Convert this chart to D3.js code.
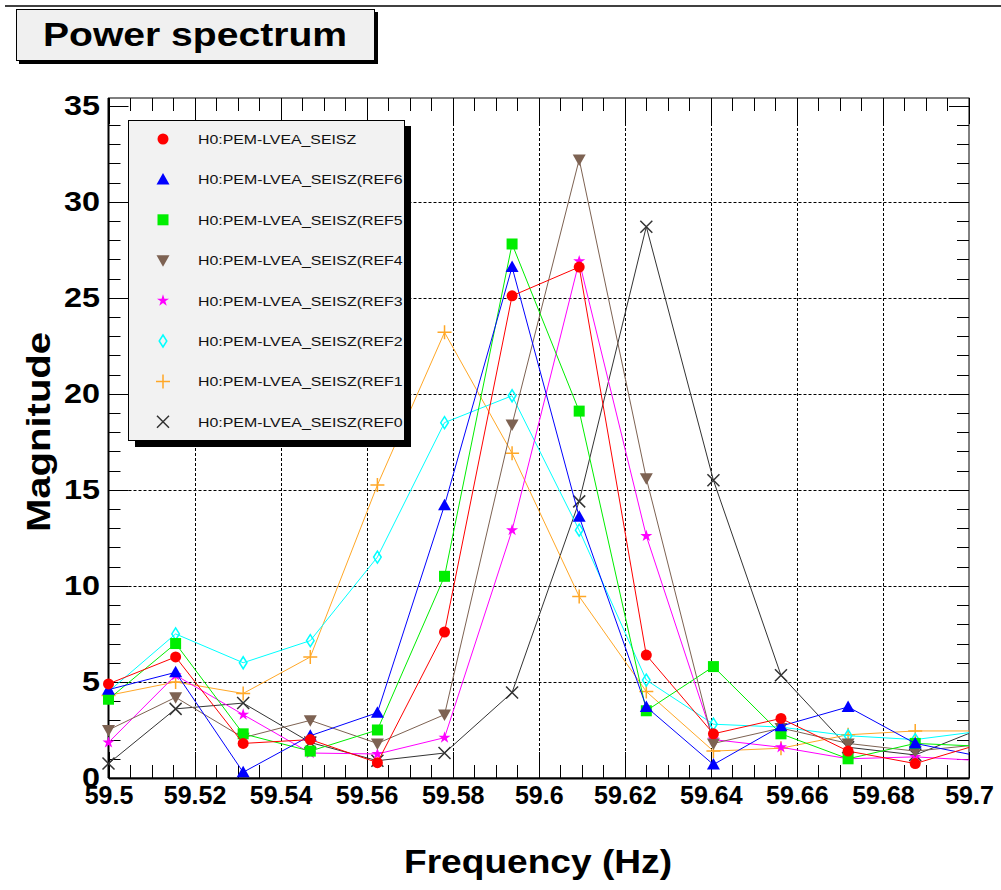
<!DOCTYPE html>
<html>
<head>
<meta charset="utf-8">
<script src="https://cdn.jsdelivr.net/npm/d3@7"></script>
<style>
  body { margin: 0; background: #fff; }
  text { font-family: "Liberation Sans", Arial, sans-serif; }
</style>
</head>
<body>
<div id="chart"></div>
<script>

// frequency bins (Hz)
var freq = [59.5, 59.5156, 59.5313, 59.5469, 59.5625, 59.5781, 59.5938,
            59.6094, 59.625, 59.6406, 59.6563, 59.6719, 59.6875, 59.7031];

// magnitudes, one array per channel
var seisz     = [4.9, 6.3, 1.8, 2.0, 0.8, 7.6, 25.1, 26.6, 6.4, 2.3, 3.1, 1.4, 0.75, 1.8];
var seiszRef6 = [4.6, 5.5, 0.3, 2.2, 3.4, 14.2, 26.6, 13.6, 3.7, 0.7, 2.7, 3.7, 1.8, 1.1];
var seiszRef5 = [4.1, 7.0, 2.3, 1.4, 2.5, 10.5, 27.8, 19.1, 3.5, 5.8, 2.3, 1.0, 1.8, 1.65];
var seiszRef4 = [2.5, 4.2, 2.1, 3.0, 1.8, 3.3, 18.4, 32.2, 15.6, 1.8, 2.6, 1.8, 1.4, 1.75];
var seiszRef3 = [1.85, 5.35, 3.3, 1.3, 1.25, 2.1, 12.9, 26.9, 12.6, 2.0, 1.6, 1.0, 1.1, 0.9];
var seiszRef2 = [4.5, 7.5, 6.0, 7.15, 11.5, 18.5, 19.9, 12.9, 5.1, 2.8, 2.65, 2.2, 2.0, 2.45];
var seiszRef1 = [4.3, 5.0, 4.4, 6.3, 15.25, 23.2, 16.9, 9.45, 4.5, 1.4, 1.55, 2.25, 2.45, 2.45];
var seiszRef0 = [0.75, 3.6, 3.9, 1.85, 0.9, 1.3, 4.45, 14.4, 28.7, 15.5, 5.35, 1.6, 1.2, 2.6];

var names = ["H0:PEM-LVEA_SEISZ", "H0:PEM-LVEA_SEISZ(REF6", "H0:PEM-LVEA_SEISZ(REF5",
             "H0:PEM-LVEA_SEISZ(REF4", "H0:PEM-LVEA_SEISZ(REF3", "H0:PEM-LVEA_SEISZ(REF2",
             "H0:PEM-LVEA_SEISZ(REF1", "H0:PEM-LVEA_SEISZ(REF0"];
var values = [seisz, seiszRef6, seiszRef5, seiszRef4, seiszRef3, seiszRef2, seiszRef1, seiszRef0];
var colors = ["#ff0000", "#0000ff", "#00ee00", "#7d6252", "#ff00ff", "#00ffff", "#ffa726", "#333333"];
var markers = ["circle", "triUp", "square", "triDown", "star", "diamond", "plus", "cross"];

var xTicks = [59.5, 59.52, 59.54, 59.56, 59.58, 59.6, 59.62, 59.64, 59.66, 59.68, 59.7];
var yTicks = [0, 5, 10, 15, 20, 25, 30, 35];

// frame of the plot in page pixels
var frame = {left: 108.5, right: 969, top: 98, bottom: 778};

var svg = d3.select("#chart").append("svg")
    .attr("width", 1001)
    .attr("height", 890);

var x = d3.scaleLinear().domain([59.5, 59.7]).range([frame.left, frame.right]);
var y = d3.scaleLinear().domain([0, 35.4]).range([frame.bottom, frame.top]);

// marker shapes
function markerPath(m) {
  if (m == "circle") return d3.symbol(d3.symbolCircle, Math.PI * 5.5 * 5.5)();
  if (m == "triUp") return "M0,-6.5L6.5,5L-6.5,5Z";
  if (m == "square") return "M-5.5,-5.5h11v11h-11z";
  if (m == "triDown") return "M0,6.5L6.5,-5L-6.5,-5Z";
  if (m == "star") return d3.symbol(d3.symbolStar, 45)();
  if (m == "diamond") return "M0,-6L3.8,0L0,6L-3.8,0Z";
  if (m == "plus") return "M-7,0H7M0,-7V7";
  return "M-6,-6L6,6M6,-6L-6,6";
}
function isOpen(m) { return m == "diamond" || m == "plus" || m == "cross"; }

// top rule of the page
svg.append("line")
    .attr("x1", 5).attr("x2", 1001).attr("y1", 6).attr("y2", 6)
    .attr("stroke", "#000").attr("stroke-width", 1.5);

// title box
svg.append("rect")
    .attr("x", 19).attr("y", 12).attr("width", 359).attr("height", 52)
    .attr("fill", "#000");
svg.append("rect")
    .attr("x", 16.5).attr("y", 9.5).attr("width", 358).attr("height", 51)
    .attr("fill", "#f0f0f0").attr("stroke", "#000").attr("stroke-width", 1);
svg.append("text")
    .attr("x", 43).attr("y", 46)
    .attr("font-size", 34).attr("font-weight", "bold")
    .attr("textLength", 304).attr("lengthAdjust", "spacingAndGlyphs")
    .text("Power spectrum");

// grid
var grid = svg.append("g").attr("stroke", "#000").attr("stroke-width", 1)
    .attr("stroke-dasharray", "3,2");
grid.selectAll(".gx").data(xTicks.slice(1, -1)).enter().append("line")
    .attr("x1", function(d) { return Math.round(x(d)) + 0.5; })
    .attr("x2", function(d) { return Math.round(x(d)) + 0.5; })
    .attr("y1", frame.top).attr("y2", frame.bottom);
grid.selectAll(".gy").data(yTicks.slice(1, -1)).enter().append("line")
    .attr("y1", function(d) { return Math.round(y(d)) + 0.5; })
    .attr("y2", function(d) { return Math.round(y(d)) + 0.5; })
    .attr("x1", frame.left).attr("x2", frame.right);

// ticks on all four sides
var xMinor = d3.range(0, 41).map(function(i) { return 59.5 + i * 0.005; });
var yMinor = d3.range(0, 36);
var ticks = svg.append("g").attr("stroke", "#000").attr("stroke-width", 1);
xMinor.forEach(function(v, i) {
  var len = (i % 4 == 0) ? 26 : 13;
  var px = Math.round(x(v)) + 0.5;
  ticks.append("line").attr("x1", px).attr("x2", px)
      .attr("y1", frame.bottom).attr("y2", frame.bottom - len);
  ticks.append("line").attr("x1", px).attr("x2", px)
      .attr("y1", frame.top).attr("y2", frame.top + len);
});
yMinor.forEach(function(v, i) {
  var len = (i % 5 == 0) ? 20 : 12;
  var py = Math.round(y(v)) + 0.5;
  ticks.append("line").attr("y1", py).attr("y2", py)
      .attr("x1", frame.left).attr("x2", frame.left + len);
  ticks.append("line").attr("y1", py).attr("y2", py)
      .attr("x1", frame.right).attr("x2", frame.right - len);
});

// frame
svg.append("rect")
    .attr("x", frame.left).attr("y", frame.top)
    .attr("width", frame.right - frame.left).attr("height", frame.bottom - frame.top)
    .attr("fill", "none").attr("stroke", "#000").attr("stroke-width", 1);

// Add the X Axis labels
var xAxis = svg.append("g")
    .attr("transform", "translate(0," + frame.bottom + ")")
    .call(d3.axisBottom(x).tickValues(xTicks).tickSize(0).tickPadding(26)
      .tickFormat(function(d) { return d3.format("")(+d.toFixed(2)); }));
xAxis.select(".domain").attr("stroke", "#000").attr("stroke-width", 2);
xAxis.selectAll("text")
    .attr("font-family", "'Liberation Sans', Arial, sans-serif")
    .attr("font-size", 25).attr("font-weight", "bold").attr("fill", "#000")
    .attr("dy", 0);

// Add the Y Axis labels
var yAxis = svg.append("g")
    .attr("transform", "translate(" + frame.left + ",0)")
    .call(d3.axisLeft(y).tickValues(yTicks).tickSize(0).tickPadding(8));
yAxis.select(".domain").attr("stroke", "#000").attr("stroke-width", 2)
    .attr("d", "M0," + frame.bottom + "V" + frame.top);
yAxis.selectAll("text")
    .attr("font-family", "'Liberation Sans', Arial, sans-serif")
    .attr("font-size", 27).attr("font-weight", "bold").attr("fill", "#000")
    .attr("x", -7).attr("dy", "0.33em")
    .attr("transform", "scale(1.2,1)");

// axis titles
svg.append("text")
    .attr("transform", "translate(50,432) rotate(-90)")
    .attr("text-anchor", "middle")
    .attr("font-size", 34).attr("font-weight", "bold")
    .attr("textLength", 200).attr("lengthAdjust", "spacingAndGlyphs")
    .text("Magnitude");
svg.append("text")
    .attr("x", 538).attr("y", 873)
    .attr("text-anchor", "middle")
    .attr("font-size", 34).attr("font-weight", "bold")
    .attr("textLength", 268).attr("lengthAdjust", "spacingAndGlyphs")
    .text("Frequency (Hz)");

// clip at the right edge of the frame
svg.append("clipPath").attr("id", "clipRight")
  .append("rect").attr("x", 0).attr("y", 0).attr("width", frame.right).attr("height", 890);

var valueline = d3.line()
    .x(function(d, i) { return x(freq[i]); })
    .y(function(d) { return y(d); });

var plot = svg.append("g").attr("clip-path", "url(#clipRight)");

// draw last series first so the first ends up on top
for (var s = values.length - 1; s >= 0; s--) {
  var g = plot.append("g");
  g.append("path")
      .datum(values[s])
      .attr("fill", "none")
      .attr("stroke", colors[s])
      .attr("stroke-width", 1)
      .attr("d", valueline);
  var m = markers[s];
  g.selectAll("path.mk").data(values[s]).enter().append("path")
      .attr("class", "mk")
      .attr("transform", function(d, i) { return "translate(" + x(freq[i]) + "," + y(d) + ")"; })
      .attr("d", markerPath(m))
      .attr("fill", isOpen(m) ? "none" : colors[s])
      .attr("stroke", isOpen(m) ? colors[s] : "none")
      .attr("stroke-width", 1.5);
}

// legend
var leg = svg.append("g");
leg.append("rect")
    .attr("x", 135).attr("y", 126).attr("width", 276).attr("height", 321)
    .attr("fill", "#000");
leg.append("rect")
    .attr("x", 128.5).attr("y", 120.5).attr("width", 276).attr("height", 320)
    .attr("fill", "#f2f2f2").attr("stroke", "#000").attr("stroke-width", 1);
svg.append("clipPath").attr("id", "clipLegend")
  .append("rect").attr("x", 128).attr("y", 120).attr("width", 275).attr("height", 320);

leg.selectAll(".mk").data(names).enter().append("path")
    .attr("transform", function(d, i) { return "translate(163," + (139 + i * 40.4) + ")"; })
    .attr("d", function(d, i) { return markerPath(markers[i]); })
    .attr("fill", function(d, i) { return isOpen(markers[i]) ? "none" : colors[i]; })
    .attr("stroke", function(d, i) { return isOpen(markers[i]) ? colors[i] : "none"; })
    .attr("stroke-width", 1.5);
leg.append("g").attr("clip-path", "url(#clipLegend)")
  .selectAll("text").data(names).enter().append("text")
    .attr("x", 198).attr("y", function(d, i) { return 144 + i * 40.4; })
    .attr("textLength", function(d) { return d.length * 9.3; })
    .attr("lengthAdjust", "spacingAndGlyphs")
    .attr("font-size", 13.5).attr("fill", "#111")
    .text(function(d) { return d; });

</script>
</body>
</html>
